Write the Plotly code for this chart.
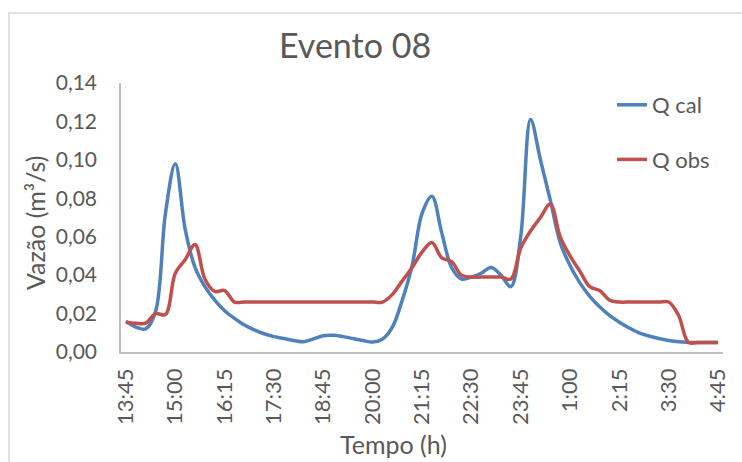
import plotly.graph_objects as go

# 15-minute time steps of the event (13:45 to 4:45)
tempo = [
    "13:45", "14:00", "14:15", "14:30", "14:45", "15:00", "15:15", "15:30", "15:45", "16:00",
    "16:15", "16:30", "16:45", "17:00", "17:15", "17:30", "17:45", "18:00", "18:15", "18:30",
    "18:45", "19:00", "19:15", "19:30", "19:45", "20:00", "20:15", "20:30", "20:45", "21:00",
    "21:15", "21:30", "21:45", "22:00", "22:15", "22:30", "22:45", "23:00", "23:15", "23:30",
    "23:45", "0:00", "0:15", "0:30", "0:45", "1:00", "1:15", "1:30", "1:45", "2:00",
    "2:15", "2:30", "2:45", "3:00", "3:15", "3:30", "3:45", "4:00", "4:15", "4:30",
    "4:45",
]

# Calculated discharge (m3/s)
q_cal = [
    0.016, 0.013, 0.012, 0.021, 0.072, 0.098, 0.064, 0.044, 0.034, 0.027,
    0.0215, 0.0175, 0.014, 0.0115, 0.0095, 0.008, 0.007, 0.006, 0.0053, 0.0068,
    0.0085, 0.0087, 0.008, 0.007, 0.006, 0.0052, 0.0068, 0.013, 0.027, 0.045,
    0.072, 0.081, 0.062, 0.044, 0.038, 0.039, 0.041, 0.044, 0.040, 0.034,
    0.060, 0.121, 0.100, 0.079, 0.057, 0.045, 0.036, 0.029, 0.0235, 0.019,
    0.0155, 0.0125, 0.010, 0.0083, 0.007, 0.006, 0.0053, 0.005, 0.005, 0.005,
    0.005,
]

# Observed discharge (m3/s)
q_obs = [
    0.0155, 0.015, 0.015, 0.020, 0.0195, 0.041, 0.048, 0.056, 0.038, 0.0315,
    0.032, 0.026, 0.026, 0.026, 0.026, 0.026, 0.026, 0.026, 0.026, 0.026,
    0.026, 0.026, 0.026, 0.026, 0.026, 0.026, 0.026, 0.030, 0.037, 0.044,
    0.052, 0.057, 0.049, 0.047, 0.040, 0.039, 0.039, 0.039, 0.039, 0.038,
    0.054, 0.063, 0.070, 0.077, 0.060, 0.050, 0.042, 0.034, 0.032, 0.027,
    0.026, 0.026, 0.026, 0.026, 0.026, 0.026, 0.019, 0.005, 0.005, 0.005,
    0.005,
]

y_ticks = [0.00, 0.02, 0.04, 0.06, 0.08, 0.10, 0.12, 0.14]
y_labels = ["0,00", "0,02", "0,04", "0,06", "0,08", "0,10", "0,12", "0,14"]

BLUE = "#4F81BD"
RED = "#C0504D"
TEXT = "#595959"
FONT = "Lato"

W, H = 742, 462
L, R, T, B = 121, 19, 83, 110
pw, ph = W - L - R, H - T - B


def px_x(p):
    return (p - L) / pw


def px_y(p):
    return (H - B - p) / ph


fig = go.Figure()
fig.add_trace(go.Scatter(
    x=tempo, y=q_cal, name="Q cal", mode="lines", legendgroup="cal",
    line=dict(color=BLUE, width=3.5, shape="spline", smoothing=1.0),
))
fig.add_trace(go.Scatter(
    x=tempo, y=q_obs, name="Q obs", mode="lines", legendgroup="obs",
    line=dict(color=RED, width=3.5, shape="spline", smoothing=1.0),
))

fig.update_layout(
    width=W, height=H,
    margin=dict(l=L, r=R, t=T, b=B),
    paper_bgcolor="white", plot_bgcolor="white",
    font=dict(family=FONT, color=TEXT, size=20),
    showlegend=True,
    legend=dict(
        x=px_x(612), y=px_y(84), xanchor="left", yanchor="top",
        bgcolor="rgba(0,0,0,0)", font=dict(size=22, color=TEXT),
        tracegroupgap=23, traceorder="grouped",
    ),
    xaxis=dict(
        type="category", range=[-0.5, len(tempo) - 0.5],
        tickmode="array", tickvals=tempo[::5], ticktext=tempo[::5],
        tickangle=-90, showgrid=False, zeroline=False,
        showline=True, linecolor="#BFBFBF", linewidth=1.5, ticks="",
        tickfont=dict(size=22, color=TEXT), ticklabelstandoff=6,
    ),
    yaxis=dict(
        range=[0, 0.14], tickvals=y_ticks, ticktext=y_labels,
        showgrid=False, zeroline=False,
        showline=True, linecolor="#BFBFBF", linewidth=1.5, ticks="",
        tickfont=dict(size=21, color=TEXT), ticklabelstandoff=18,
    ),
    shapes=[dict(
        type="rect", xref="paper", yref="paper",
        x0=px_x(9), x1=px_x(760), y0=px_y(480), y1=px_y(13),
        line=dict(color="#D9D9D9", width=1.5), fillcolor="rgba(0,0,0,0)",
        layer="below",
    )],
    annotations=[
        dict(text="Evento 08", xref="paper", yref="paper",
             x=px_x(355), y=px_y(44), xanchor="center", yanchor="middle",
             showarrow=False, font=dict(size=34, color=TEXT)),
        dict(text="Vazão (m³/s)", xref="paper", yref="paper",
             x=px_x(35), y=px_y(223), xanchor="center", yanchor="middle",
             textangle=-90, showarrow=False, font=dict(size=25, color=TEXT)),
        dict(text="Tempo (h)", xref="paper", yref="paper",
             x=px_x(393), y=px_y(444), xanchor="center", yanchor="middle",
             showarrow=False, font=dict(size=25, color=TEXT)),
    ],
)

fig.write_html("out.html")
